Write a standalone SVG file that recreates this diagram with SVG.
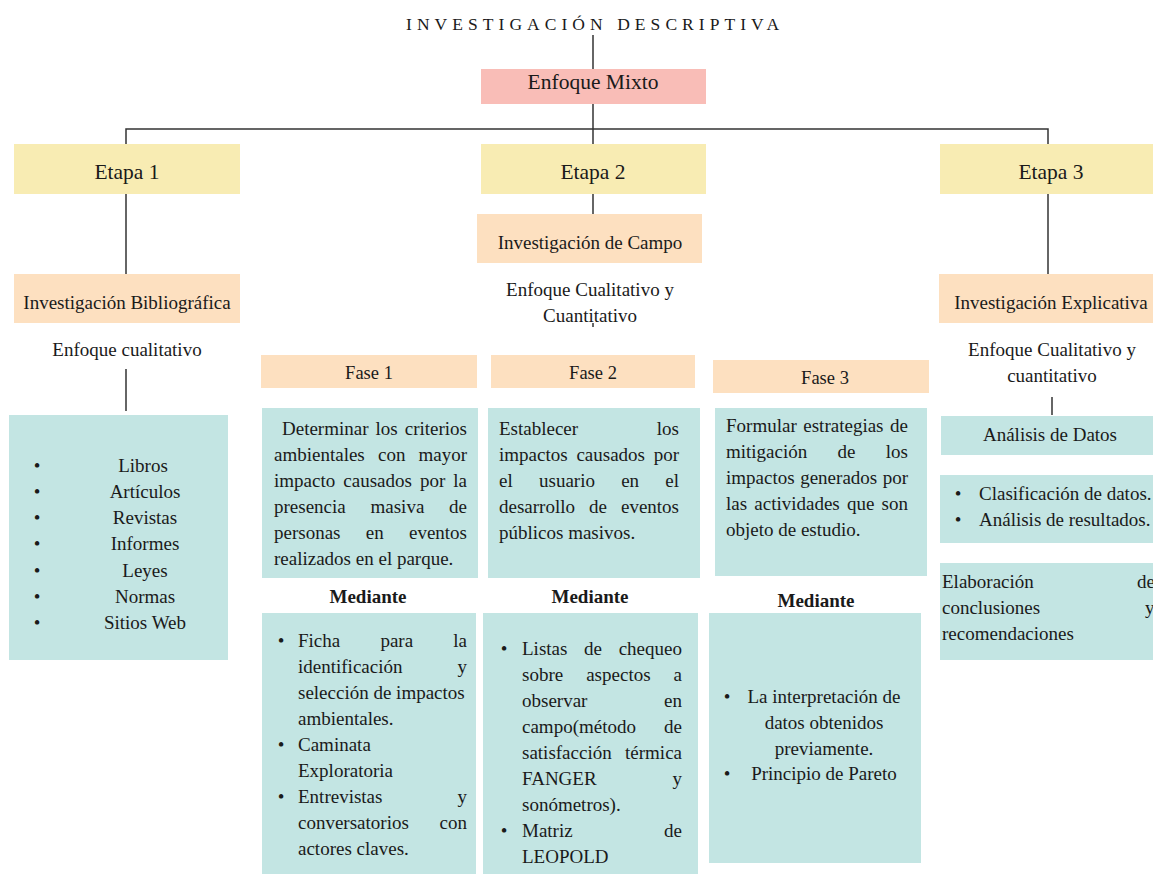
<svg xmlns="http://www.w3.org/2000/svg" width="1153" height="874" viewBox="0 0 1153 874">
<style>
text{font-family:"Liberation Serif","Times New Roman",serif;fill:#1a1a1a}
.s{font-size:19px}
.m{font-size:18.5px}
.l{font-size:21.5px}
.c{text-anchor:middle}
.e{text-anchor:end}
.bd{font-weight:bold}
.pink{fill:#f9bdb7}
.yel{fill:#f8ecb3}
.pea{fill:#fde0c0}
.tea{fill:#c3e5e3}
.ln{stroke:#333;stroke-width:1.5;fill:none}
</style>
<rect width="1153" height="874" fill="#ffffff"/>

<text id="title" x="406" y="30" style="font-size:17.5px;letter-spacing:5.05px">INVESTIGACIÓN DESCRIPTIVA</text>

<g id="connectors">
<line class="ln" x1="593" y1="35" x2="593" y2="69"/>
<line class="ln" x1="593" y1="104" x2="593" y2="144"/>
<polyline class="ln" points="126,144 126,129 1048,129 1048,144"/>
<line class="ln" x1="126" y1="194" x2="126" y2="274"/>
<line class="ln" x1="593" y1="194" x2="593" y2="214"/>
<line class="ln" x1="593" y1="323" x2="593" y2="327"/>
<line class="ln" x1="1048" y1="194" x2="1048" y2="274"/>
<line class="ln" x1="126" y1="369" x2="126" y2="411"/>
<line class="ln" x1="1052" y1="397" x2="1052" y2="415"/>
</g>

<g id="mixto">
<rect class="pink" x="481" y="69" width="225" height="35"/>
<text class="l c" x="593" y="89">Enfoque Mixto</text>
</g>

<g id="etapa1">
<rect class="yel" x="14" y="144" width="226" height="50"/>
<text class="l c" x="127" y="179">Etapa 1</text>
</g>
<g id="etapa2">
<rect class="yel" x="481" y="144" width="225" height="50"/>
<text class="l c" x="593" y="179">Etapa 2</text>
</g>
<g id="etapa3">
<rect class="yel" x="940" y="144" width="213" height="50"/>
<text class="l c" x="1051" y="179">Etapa 3</text>
</g>

<g id="invbib">
<rect class="pea" x="14" y="274" width="226" height="49"/>
<text class="s c" x="127" y="309">Investigación Bibliográfica</text>
</g>
<g id="invcampo">
<rect class="pea" x="477" y="214" width="225" height="49"/>
<text class="s c" x="590" y="249">Investigación de Campo</text>
</g>
<g id="invexp">
<rect class="pea" x="939" y="274" width="214" height="49"/>
<text class="s c" x="1051" y="309">Investigación Explicativa</text>
</g>

<g id="enf1">
<text class="s c" x="127" y="356">Enfoque cualitativo</text>
</g>
<g id="enf2">
<text class="s c" x="590" y="296">Enfoque Cualitativo y</text>
<text class="s c" x="590" y="322">Cuantitativo</text>
</g>
<g id="enf3">
<text class="s c" x="1052" y="356">Enfoque Cualitativo y</text>
<text class="s c" x="1052" y="382">cuantitativo</text>
</g>

<g id="fuentes">
<rect class="tea" x="9" y="415" width="219" height="245"/>
<text class="s c" x="37" y="472">•</text><text class="s c" x="143" y="472">Libros</text>
<text class="s c" x="37" y="498">•</text><text class="s c" x="145" y="498">Artículos</text>
<text class="s c" x="37" y="524">•</text><text class="s c" x="145" y="524">Revistas</text>
<text class="s c" x="37" y="550">•</text><text class="s c" x="145" y="550">Informes</text>
<text class="s c" x="37" y="577">•</text><text class="s c" x="145" y="577">Leyes</text>
<text class="s c" x="37" y="603">•</text><text class="s c" x="145" y="603">Normas</text>
<text class="s c" x="37" y="629">•</text><text class="s c" x="145" y="629">Sitios Web</text>
</g>

<g id="fase1">
<rect class="pea" x="261" y="355" width="216" height="33"/>
<text class="m c" x="369" y="379">Fase 1</text>
</g>
<g id="fase2">
<rect class="pea" x="491" y="355" width="204" height="33"/>
<text class="m c" x="593" y="379">Fase 2</text>
</g>
<g id="fase3">
<rect class="pea" x="713" y="360" width="216" height="33"/>
<text class="m c" x="825" y="384">Fase 3</text>
</g>

<g id="desc1">
<rect class="tea" x="262" y="408" width="216" height="170"/>
<text class="s" y="435"><tspan x="282">Determinar</tspan><tspan x="375.5">los</tspan></text><text class="s e" x="467" y="435">criterios</text>
<text class="s" y="461"><tspan x="274">ambientales</tspan><tspan x="378">con</tspan></text><text class="s e" x="467" y="461">mayor</text>
<text class="s" y="487"><tspan x="274">impacto</tspan><tspan x="343.3">causados</tspan><tspan x="420">por</tspan></text><text class="s e" x="467" y="487">la</text>
<text class="s" y="513"><tspan x="274">presencia</tspan><tspan x="370.5">masiva</tspan></text><text class="s e" x="467" y="513">de</text>
<text class="s" y="539"><tspan x="274">personas</tspan><tspan x="365.8">en</tspan></text><text class="s e" x="467" y="539">eventos</text>
<text class="s" x="274" y="565">realizados en el parque.</text>
</g>

<g id="desc2">
<rect class="tea" x="488" y="408" width="212" height="170"/>
<text class="s" x="499" y="435">Establecer</text><text class="s e" x="679" y="435">los</text>
<text class="s" y="461"><tspan x="499">impactos</tspan><tspan x="576.4">causados</tspan></text><text class="s e" x="679" y="461">por</text>
<text class="s" y="487"><tspan x="499">el</tspan><tspan x="539">usuario</tspan><tspan x="621.2">en</tspan></text><text class="s e" x="679" y="487">el</text>
<text class="s" y="513"><tspan x="499">desarrollo</tspan><tspan x="589">de</tspan></text><text class="s e" x="679" y="513">eventos</text>
<text class="s" x="499" y="539">públicos masivos.</text>
</g>

<g id="desc3">
<rect class="tea" x="715" y="408" width="212" height="168"/>
<text class="s" y="432"><tspan x="726">Formular</tspan><tspan x="803.3">estrategias</tspan></text><text class="s e" x="908" y="432">de</text>
<text class="s" y="458"><tspan x="726">mitigación</tspan><tspan x="837.6">de</tspan></text><text class="s e" x="908" y="458">los</text>
<text class="s" y="484"><tspan x="726">impactos</tspan><tspan x="800.2">generados</tspan></text><text class="s e" x="908" y="484">por</text>
<text class="s" y="510"><tspan x="726">las</tspan><tspan x="754.3">actividades</tspan><tspan x="847">que</tspan></text><text class="s e" x="908" y="510">son</text>
<text class="s" x="726" y="536">objeto de estudio.</text>
</g>

<g id="med1">
<text class="s c bd" x="368" y="603">Mediante</text>
<rect class="tea" x="262" y="613" width="214" height="261"/>
<text class="s c" x="281" y="647">•</text>
<text class="s" y="647"><tspan x="298">Ficha</tspan><tspan x="380.4">para</tspan></text><text class="s e" x="467" y="647">la</text>
<text class="s" x="298" y="673">identificación</text><text class="s e" x="467" y="673">y</text>
<text class="s" x="298" y="699">selección de impactos</text>
<text class="s" x="298" y="725">ambientales.</text>
<text class="s c" x="281" y="751">•</text>
<text class="s" x="298" y="751">Caminata</text>
<text class="s" x="298" y="777">Exploratoria</text>
<text class="s c" x="281" y="803">•</text>
<text class="s" x="298" y="803">Entrevistas</text><text class="s e" x="467" y="803">y</text>
<text class="s" x="298" y="829">conversatorios</text><text class="s e" x="467" y="829">con</text>
<text class="s" x="298" y="855">actores claves.</text>
</g>

<g id="med2">
<text class="s c bd" x="590" y="603">Mediante</text>
<rect class="tea" x="483" y="613" width="215" height="261"/>
<text class="s c" x="504" y="655">•</text>
<text class="s" y="655"><tspan x="522">Listas</tspan><tspan x="584.1">de</tspan></text><text class="s e" x="682" y="655">chequeo</text>
<text class="s" y="681"><tspan x="522">sobre</tspan><tspan x="586.2">aspectos</tspan></text><text class="s e" x="682" y="681">a</text>
<text class="s" x="522" y="707">observar</text><text class="s e" x="682" y="707">en</text>
<text class="s" x="522" y="733">campo(método</text><text class="s e" x="682" y="733">de</text>
<text class="s" x="522" y="759">satisfacción</text><text class="s e" x="682" y="759">térmica</text>
<text class="s" x="522" y="785">FANGER</text><text class="s e" x="682" y="785">y</text>
<text class="s" x="522" y="811">sonómetros).</text>
<text class="s c" x="504" y="837">•</text>
<text class="s" x="522" y="837">Matriz</text><text class="s e" x="682" y="837">de</text>
<text class="s" x="522" y="863">LEOPOLD</text>
</g>

<g id="med3">
<text class="s c bd" x="816" y="607">Mediante</text>
<rect class="tea" x="709" y="613" width="212" height="250"/>
<text class="s c" x="727" y="703">•</text>
<text class="s c" x="824" y="703">La interpretación de</text>
<text class="s c" x="824" y="729">datos obtenidos</text>
<text class="s c" x="824" y="755">previamente.</text>
<text class="s c" x="727" y="780">•</text>
<text class="s c" x="824" y="780">Principio de Pareto</text>
</g>

<g id="analisis">
<rect class="tea" x="941" y="416" width="212" height="39"/>
<text class="s c" x="1050" y="441">Análisis de Datos</text>
</g>
<g id="clasif">
<rect class="tea" x="940" y="475" width="213" height="68"/>
<text class="s c" x="958" y="500">•</text>
<text class="s" x="979" y="500">Clasificación de datos.</text>
<text class="s c" x="958" y="526">•</text>
<text class="s" x="979" y="526">Análisis de resultados.</text>
</g>
<g id="elab">
<rect class="tea" x="940" y="563" width="213" height="97"/>
<text class="s" x="942" y="588">Elaboración</text><text class="s" x="1137" y="588">de</text>
<text class="s" x="942" y="614">conclusiones</text><text class="s" x="1145" y="614">y</text>
<text class="s" x="942" y="640">recomendaciones</text>
</g>
</svg>
